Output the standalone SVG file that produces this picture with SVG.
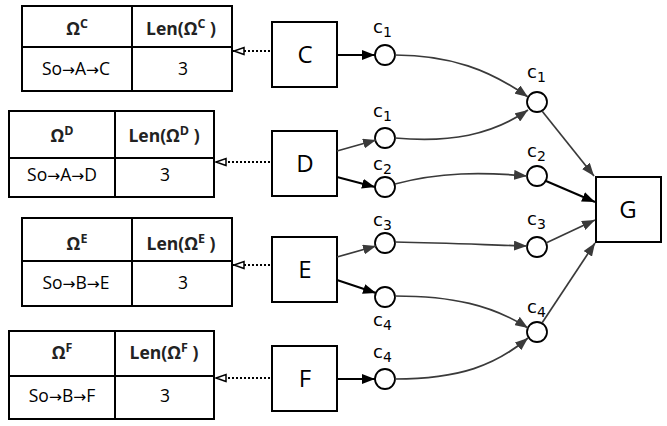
<svg xmlns="http://www.w3.org/2000/svg" width="667" height="426" viewBox="0 0 667 426">
<style>
.tb{fill:#fff;stroke:#000;stroke-width:2}
.tl{stroke:#000;stroke-width:2}
.th{font-family:"Open Sans","Noto Sans",sans-serif;font-size:17.5px;font-weight:bold;fill:#222;text-anchor:middle}
.td{font-family:"Open Sans","Noto Sans",sans-serif;font-size:17.5px;fill:#000;text-anchor:middle}
.ar{font-family:"DejaVu Sans",sans-serif;font-size:15.5px}
.box{fill:#fff;stroke:#000;stroke-width:2}
.bl{font-family:"Open Sans","Noto Sans",sans-serif;font-size:24px;fill:#000;text-anchor:middle}
.cir{fill:#fff;stroke:#000;stroke-width:1.8}
.cl{font-family:"DejaVu Sans",sans-serif;font-size:18px;fill:#000}
.blk{fill:none;stroke:#000;stroke-width:2;marker-end:url(#ab)}
.gry{fill:none;stroke:#3a3a3a;stroke-width:1.7;marker-end:url(#ag)}
.dot{fill:none;stroke:#000;stroke-width:2;stroke-dasharray:2,2;marker-end:url(#ao)}
</style>
<defs>
<marker id="ab" markerUnits="userSpaceOnUse" markerWidth="14" markerHeight="10" refX="13" refY="5" orient="auto"><path d="M0,0 L13,5 L0,10 z" fill="#000"/></marker>
<marker id="ag" markerUnits="userSpaceOnUse" markerWidth="14" markerHeight="10" refX="13" refY="5" orient="auto"><path d="M0,0 L13,5 L0,10 z" fill="#3a3a3a"/></marker>
<marker id="ao" markerUnits="userSpaceOnUse" markerWidth="14" markerHeight="10" refX="12" refY="5" orient="auto"><path d="M1,1.5 L11,5 L1,8.5 z" fill="#fff" stroke="#000" stroke-width="1.5"/></marker>
</defs>

<g id="tableC">
<rect class="tb" x="22" y="6" width="210" height="85"/>
<line class="tl" x1="22" y1="47" x2="232" y2="47"/>
<line class="tl" x1="132" y1="6" x2="132" y2="91"/>
<text class="th" x="77" y="35">Ω<tspan font-size="12.5" dy="-7">C</tspan></text>
<text class="th" x="181" y="35">Len(Ω<tspan font-size="12.5" dy="-7">C</tspan><tspan dy="7"> )</tspan></text>
<text class="td" x="76" y="75">So<tspan class="ar">→</tspan>A<tspan class="ar">→</tspan>C</text>
<text class="td" x="183" y="75">3</text>
</g>
<g id="tableD">
<rect class="tb" x="9" y="111" width="205" height="86"/>
<line class="tl" x1="9" y1="158" x2="214" y2="158"/>
<line class="tl" x1="115" y1="111" x2="115" y2="197"/>
<text class="th" x="62" y="142">Ω<tspan font-size="12.5" dy="-7">D</tspan></text>
<text class="th" x="164" y="142">Len(Ω<tspan font-size="12.5" dy="-7">D</tspan><tspan dy="7"> )</tspan></text>
<text class="td" x="62" y="181">So<tspan class="ar">→</tspan>A<tspan class="ar">→</tspan>D</text>
<text class="td" x="165" y="181">3</text>
</g>
<g id="tableE">
<rect class="tb" x="22" y="218" width="210" height="88"/>
<line class="tl" x1="22" y1="261" x2="232" y2="261"/>
<line class="tl" x1="132" y1="218" x2="132" y2="306"/>
<text class="th" x="77" y="250">Ω<tspan font-size="12.5" dy="-7">E</tspan></text>
<text class="th" x="181" y="250">Len(Ω<tspan font-size="12.5" dy="-7">E</tspan><tspan dy="7"> )</tspan></text>
<text class="td" x="76" y="289">So<tspan class="ar">→</tspan>B<tspan class="ar">→</tspan>E</text>
<text class="td" x="183" y="289">3</text>
</g>
<g id="tableF">
<rect class="tb" x="9" y="331" width="205" height="88"/>
<line class="tl" x1="9" y1="376" x2="214" y2="376"/>
<line class="tl" x1="115" y1="331" x2="115" y2="419"/>
<text class="th" x="62" y="359">Ω<tspan font-size="12.5" dy="-7">F</tspan></text>
<text class="th" x="164" y="359">Len(Ω<tspan font-size="12.5" dy="-7">F</tspan><tspan dy="7"> )</tspan></text>
<text class="td" x="62" y="402">So<tspan class="ar">→</tspan>B<tspan class="ar">→</tspan>F</text>
<text class="td" x="165" y="402">3</text>
</g>

<g id="nodeC"><rect class="box" x="272" y="22" width="65" height="65"/><text class="bl" x="305" y="63">C</text></g>
<g id="nodeD"><rect class="box" x="272" y="131" width="65" height="65"/><text class="bl" x="305" y="172">D</text></g>
<g id="nodeE"><rect class="box" x="272" y="237" width="65" height="65"/><text class="bl" x="305" y="278">E</text></g>
<g id="nodeF"><rect class="box" x="272" y="346" width="65" height="65"/><text class="bl" x="305" y="387">F</text></g>
<g id="nodeG"><rect class="box" x="596" y="177" width="65" height="65"/><text class="bl" x="628" y="218">G</text></g>

<g id="cC1"><circle class="cir" cx="385" cy="55" r="10"/><text class="cl" x="373" y="33">c<tspan font-size="14" dy="4">1</tspan></text></g>
<g id="cD1"><circle class="cir" cx="385" cy="138" r="10"/><text class="cl" x="373" y="117">c<tspan font-size="14" dy="4">1</tspan></text></g>
<g id="cD2"><circle class="cir" cx="385" cy="187" r="10"/><text class="cl" x="373" y="170">c<tspan font-size="14" dy="4">2</tspan></text></g>
<g id="cE3"><circle class="cir" cx="385" cy="243" r="10"/><text class="cl" x="373" y="226">c<tspan font-size="14" dy="4">3</tspan></text></g>
<g id="cE4"><circle class="cir" cx="385" cy="297" r="10"/><text class="cl" x="373" y="326">c<tspan font-size="14" dy="4">4</tspan></text></g>
<g id="cF4"><circle class="cir" cx="385" cy="379" r="10"/><text class="cl" x="373" y="358">c<tspan font-size="14" dy="4">4</tspan></text></g>
<g id="m1"><circle class="cir" cx="537" cy="102" r="10"/><text class="cl" x="527" y="78">c<tspan font-size="14" dy="4">1</tspan></text></g>
<g id="m2"><circle class="cir" cx="537" cy="176" r="10"/><text class="cl" x="527" y="157">c<tspan font-size="14" dy="4">2</tspan></text></g>
<g id="m3"><circle class="cir" cx="537" cy="247" r="10"/><text class="cl" x="527" y="225">c<tspan font-size="14" dy="4">3</tspan></text></g>
<g id="m4"><circle class="cir" cx="537" cy="332" r="10"/><text class="cl" x="527" y="313">c<tspan font-size="14" dy="4">4</tspan></text></g>

<g id="connectors">
<path class="dot" d="M270,51 L233,51"/>
<path class="dot" d="M270,162 L215,162"/>
<path class="dot" d="M270,265 L233,265"/>
<path class="dot" d="M270,378 L215,378"/>

<path class="blk" d="M337,55 L375,55"/>
<path class="gry" d="M337,151 L376,140"/>
<path class="blk" d="M337,177 L375,187"/>
<path class="gry" d="M337,257 L376,246"/>
<path class="blk" d="M337,280 L376,293"/>
<path class="blk" d="M337,379 L375,379"/>

<path class="gry" d="M395,55 C450,55 490,70 528,97"/>
<path class="gry" d="M395,138 C450,143 492,135 528,110"/>
<path class="gry" d="M395,184 C440,172 482,172 527,176"/>
<path class="gry" d="M395,242 C450,243 490,245 527,246"/>
<path class="gry" d="M395,296 C452,296 492,305 528,328"/>
<path class="gry" d="M395,379 C460,379 496,365 528,338"/>

<path class="gry" d="M542,111 L594,176"/>
<path class="blk" d="M546,181 L595,202"/>
<path class="gry" d="M546,243 L595,220"/>
<path class="gry" d="M542,323 L595,243"/>
</g>
</svg>
